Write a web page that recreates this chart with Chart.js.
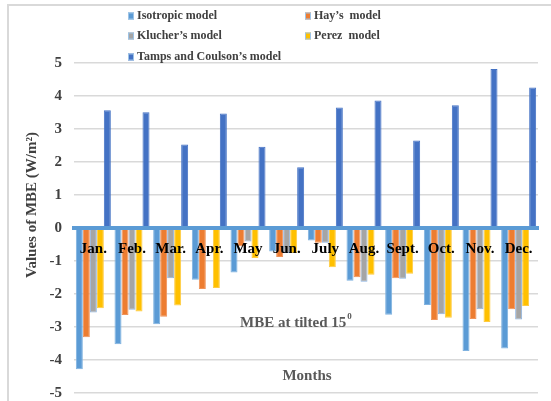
<!DOCTYPE html>
<html>
<head>
<meta charset="utf-8">
<script src="https://cdn.jsdelivr.net/npm/chart.js@4"></script>
<style>
  html, body { margin: 0; padding: 0; background: #ffffff; }
  #wrap { position: relative; width: 551px; height: 401px; }
</style>
</head>
<body>
<div id="wrap"><canvas id="c" width="551" height="401"></canvas></div>
<script>
const months = ["Jan.", "Feb.", "Mar.", "Apr.", "May", "Jun.", "July", "Aug.", "Sept.", "Oct.", "Nov.", "Dec."];
const seriesNames = ["Isotropic model", "Hay’s  model", "Klucher’s model", "Perez  model", "Tamps and Coulson’s model"];
const isotropic = [-4.28, -3.52, -2.92, -1.57, -1.35, -0.71, -0.38, -1.60, -2.63, -2.33, -3.73, -3.65];
const hay       = [-3.31, -2.64, -2.69, -1.85, -0.55, -0.88, -0.45, -1.49, -1.52, -2.79, -2.76, -2.46];
const klucher   = [-2.56, -2.48, -1.52, 0, -0.41, -0.76, -0.45, -1.63, -1.54, -2.61, -2.46, -2.77];
const perez     = [-2.43, -2.53, -2.35, -1.82, -0.91, -0.76, -1.19, -1.42, -1.39, -2.72, -2.85, -2.36];
const tamps     = [3.57, 3.51, 2.53, 3.47, 2.46, 1.84, 3.65, 3.86, 2.65, 3.72, 4.82, 4.26];
const yTicks = [5, 4, 3, 2, 1, 0, -1, -2, -3, -4, -5];
const seriesValues = [isotropic, hay, klucher, perez, tamps];
const colors = ["#5B9BD5", "#ED7D31", "#A5A5A5", "#FFC000", "#4472C4"];
const borders = ["#7FB2E0", "#F0935A", "#8DB4E2", "#FFCB40", "#4472C4"];

const datasets = seriesValues.map((vals, i) => ({
  label: seriesNames[i],
  data: vals,
  backgroundColor: colors[i],
  borderColor: borders[i],
  borderWidth: 1,
  borderSkipped: false,
  barPercentage: 1.0,
  categoryPercentage: 0.905
}));

const serif = "'Liberation Serif', 'Times New Roman', serif";

const decorPlugin = {
  id: 'decor',
  beforeDraw(chart) {
    const ctx = chart.ctx;
    ctx.save();
    ctx.strokeStyle = '#D9D9D9';
    ctx.lineWidth = 2;
    ctx.beginPath();
    ctx.moveTo(8, 401);
    ctx.lineTo(8, 5);
    ctx.lineTo(551, 5);
    ctx.stroke();
    ctx.restore();
  },
  afterDraw(chart) {
    const ctx = chart.ctx;
    const ys = chart.scales.y;
    ctx.save();
    // legend
    ctx.font = "bold 12px " + serif;
    ctx.textBaseline = 'middle';
    ctx.textAlign = 'left';
    const cols = [128, 305];
    const rows = [16, 36, 57];
    chart.data.datasets.forEach((ds, i) => {
      const x = cols[i % 2];
      const y = rows[Math.floor(i / 2)];
      ctx.fillStyle = ds.backgroundColor;
      ctx.fillRect(x, y - 3.5, 6, 7);
      ctx.strokeStyle = '#9DC3E6';
      ctx.lineWidth = 1;
      ctx.strokeRect(x + 0.5, y - 3, 5, 6);
      ctx.fillStyle = '#404040';
      ctx.fillText(ds.label, x + 9, y);
    });
    // y-axis title
    ctx.save();
    ctx.translate(32, 205);
    ctx.rotate(-Math.PI / 2);
    ctx.textAlign = 'center';
    ctx.textBaseline = 'middle';
    ctx.font = "bold 15px " + serif;
    ctx.fillStyle = '#404040';
    ctx.fillText("Values of MBE (W/m²)", 0, 0);
    ctx.restore();
    // annotations
    ctx.font = "bold 15px " + serif;
    ctx.fillStyle = '#595959';
    ctx.textAlign = 'left';
    ctx.textBaseline = 'middle';
    const t1 = "MBE at tilted 15";
    const w1 = ctx.measureText(t1).width;
    const x1 = 240;
    const y1 = ys.getPixelForValue(-2.88);
    ctx.fillText(t1, x1, y1);
    ctx.font = "bold 9px " + serif;
    ctx.fillText("0", x1 + w1 + 1, y1 - 6);
    ctx.font = "bold 15px " + serif;
    ctx.textAlign = 'center';
    ctx.fillText("Months", 307, ys.getPixelForValue(-4.5));
    ctx.restore();
  }
};

new Chart(document.getElementById('c'), {
  type: 'bar',
  data: { labels: months, datasets: datasets },
  options: {
    responsive: false,
    animation: false,
    devicePixelRatio: 1,
    layout: { padding: { top: 63, bottom: 8, left: 0, right: 13 } },
    plugins: {
      legend: { display: false },
      tooltip: { enabled: false }
    },
    scales: {
      x: {
        position: { y: 0 },
        grid: { display: false, drawTicks: false, z: -1 },
        border: { display: true, color: '#5B9BD5', width: 4, z: 1 },
        ticks: {
          z: 1,
          padding: 12,
          color: '#000000',
          font: { family: serif, size: 15, weight: 'bold' },
          maxRotation: 0,
          autoSkip: false
        }
      },
      y: {
        min: -5,
        max: 5,
        afterFit: (s) => { s.width = 74; s.paddingTop = 0; s.paddingBottom = 0; },
        afterBuildTicks: (s) => { s.ticks = yTicks.map(v => ({ value: v })); },
        grid: { color: '#D9D9D9', lineWidth: 1.5, drawTicks: false },
        border: { display: false },
        ticks: {
          padding: 12,
          color: '#404040',
          font: { family: serif, size: 15, weight: 'bold' },
          callback: (v) => String(v)
        }
      }
    }
  },
  plugins: [decorPlugin]
});
</script>
</body>
</html>
